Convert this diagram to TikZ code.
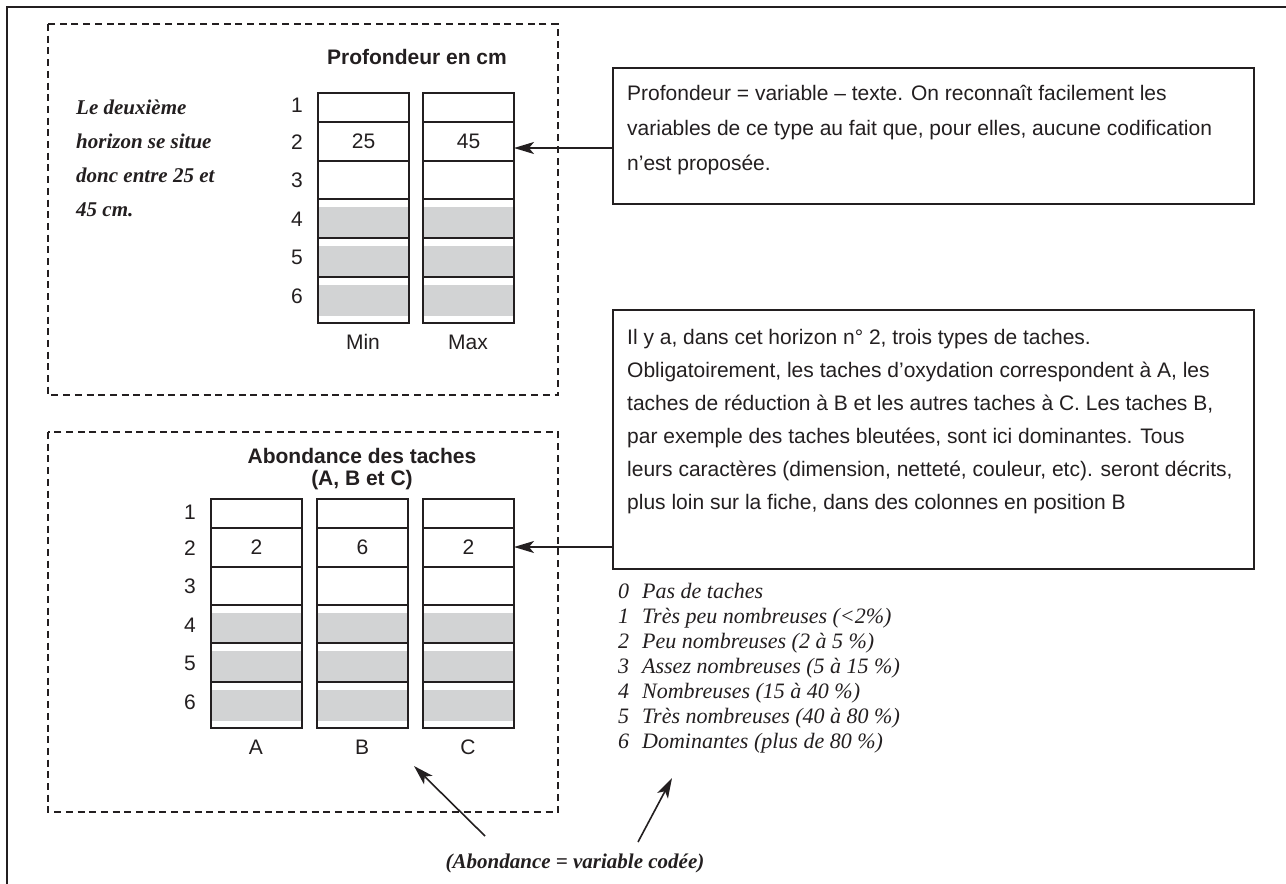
\documentclass[tikz,border=0pt]{standalone}
\usepackage{fontspec}
\setmainfont{Liberation Serif}
\setsansfont{Liberation Sans}
\usetikzlibrary{arrows.meta}
\definecolor{ink}{RGB}{35,31,32}
\definecolor{cellgray}{RGB}{210,211,212}
\newcommand{\sfbody}{\sffamily\fontsize{21}{33}\selectfont}
\begin{document}
\begin{tikzpicture}[x=1pt,y=-1pt,
  frame/.style={draw=ink, line width=2.5pt},
  dashbox/.style={draw=ink, line width=2.6pt, dash pattern=on 7pt off 4.7pt},
  cell/.style={draw=ink, line width=2pt, minimum width=91pt, inner sep=0pt, outer sep=0pt, anchor=north west},
  graycell/.style={cell, fill=cellgray, path picture={\fill[white] (path picture bounding box.north west) rectangle ([yshift=-8pt]path picture bounding box.north east);}},
  graycellb/.style={cell, fill=cellgray, path picture={\fill[white] (path picture bounding box.north west) rectangle ([yshift=-8pt]path picture bounding box.north east);
     \fill[white] (path picture bounding box.south west) rectangle ([yshift=7pt]path picture bounding box.south east);}},
  lab/.style={font=\sfbody, text=ink, inner sep=0pt},
  title/.style={font=\sffamily\bfseries\fontsize{21}{22}\selectfont, text=ink, align=center, inner sep=0pt},
  boxframe/.style={draw=ink, line width=2pt, anchor=north west, inner sep=0pt, minimum width=641pt},
  boxtxt/.style={font=\sfbody, text=ink, anchor=north west, inner sep=0pt, align=left},
  arr/.style={draw=ink, line width=1.6pt, -{Stealth[length=20pt,width=12pt,inset=5pt]}}
]
\useasboundingbox (0,0) rectangle (1286,884);
\fill[white] (0,0) rectangle (1286,884);
% outer frame (partly visible)
\draw[frame] (7,884) -- (7,7) -- (1286,7);
% dashed boxes
\draw[dashbox] (48,24) rectangle (558,395);
\draw[dashbox] (48,432) rectangle (558,812);

% ---------- upper part ----------
\node[title] (t1) at (417,57) {Profondeur en cm};
\node[font=\bfseries\itshape\fontsize{21}{34}\selectfont, text=ink, anchor=north west, align=left, inner sep=0pt] (note) at (76,100)
  {Le deuxième\\horizon se situe\\donc entre 25 et\\45 cm.};

\foreach \c/\x in {min/318, max/423}{
  \node[cell, minimum height=29pt] (\c1) at (\x,93) {};
  \node[cell, minimum height=39pt] (\c2) at (\x,122) {};
  \node[cell, minimum height=38pt] (\c3) at (\x,161) {};
  \node[graycell, minimum height=39pt] (\c4) at (\x,199) {};
  \node[graycell, minimum height=39pt] (\c5) at (\x,238) {};
  \node[graycellb, minimum height=46pt] (\c6) at (\x,277) {};
}
\foreach \r/\y in {1/105,2/142,3/180,4/219,5/257,6/296}
  \node[lab] (ul\r) at (297,\y) {\r};
\node[lab] (v25) at (min2) {25};
\node[lab] (v45) at (max2) {45};
\node[lab] (lmin) at (363,342) {Min};
\node[lab] (lmax) at (468,342) {Max};

\node[boxframe, minimum height=136pt] (box1) at (612,67) {};
\node[boxtxt, font=\sffamily\fontsize{21}{35}\selectfont] (box1txt) at (627,85)
  {Profondeur = variable – texte. On reconnaît facilement les\\
   variables de ce type au fait que, pour elles, aucune codification\\
   n’est proposée.};
\coordinate (ya) at (0,148);
\draw[arr] (box1.west |- ya) -- (max2.east |- ya);

% ---------- lower part ----------
\node[title] (t2) at (362,469) {Abondance des taches\\(A, B et C)};
\foreach \c/\x in {ca/211, cb/317, cc/423}{
  \node[cell, minimum height=29pt] (\c1) at (\x,499) {};
  \node[cell, minimum height=39pt] (\c2) at (\x,528) {};
  \node[cell, minimum height=38pt] (\c3) at (\x,567) {};
  \node[graycell, minimum height=38pt] (\c4) at (\x,605) {};
  \node[graycell, minimum height=39pt] (\c5) at (\x,643) {};
  \node[graycellb, minimum height=46pt] (\c6) at (\x,682) {};
}
\foreach \r/\y in {1/512,2/548,3/586,4/625,5/663,6/702}
  \node[lab] (ll\r) at (190,\y) {\r};
\node[lab] (va) at (ca2) {2};
\node[lab] (vb) at (cb2) {6};
\node[lab] (vc) at (cc2) {2};
\node[lab] (la) at (256,747) {A};
\node[lab] (lb) at (362,747) {B};
\node[lab] (lc) at (468,747) {C};

\node[boxframe, minimum height=259pt] (box2) at (612,309) {};
\node[boxtxt] (box2txt) at (627,329)
  {Il y a, dans cet horizon n° 2, trois types de taches.\\
   Obligatoirement, les taches d’oxydation correspondent à A, les\\
   taches de réduction à B et les autres taches à C. Les taches B,\\
   par exemple des taches bleutées, sont ici dominantes. Tous\\
   leurs caractères (dimension, netteté, couleur, etc). seront décrits,\\
   plus loin sur la fiche, dans des colonnes en position B};
\coordinate (yb) at (0,547);
\draw[arr] (box2.west |- yb) -- (cc2.east |- yb);

\node[anchor=north west, inner sep=0pt, text=ink, font=\itshape\fontsize{22}{25}\selectfont] (legend) at (618,581)
  {\begin{tabular}{@{}l@{\hspace{13pt}}l@{}}
   0 & Pas de taches\\
   1 & Très peu nombreuses (<2\%)\\
   2 & Peu nombreuses (2 à 5 \%)\\
   3 & Assez nombreuses (5 à 15 \%)\\
   4 & Nombreuses (15 à 40 \%)\\
   5 & Très nombreuses (40 à 80 \%)\\
   6 & Dominantes (plus de 80 \%)
   \end{tabular}};

\node[font=\bfseries\itshape\fontsize{21}{25}\selectfont, text=ink, inner sep=0pt] (codee) at (575,863) {(Abondance = variable codée)};
\coordinate (tailL) at (485,836);
\coordinate (tipL) at (414,766);
\coordinate (tailR) at (638,842);
\coordinate (tipR) at (672,778);
\draw[arr] (tailL) -- (tipL);
\draw[arr] (tailR) -- (tipR);
\end{tikzpicture}
\end{document}
